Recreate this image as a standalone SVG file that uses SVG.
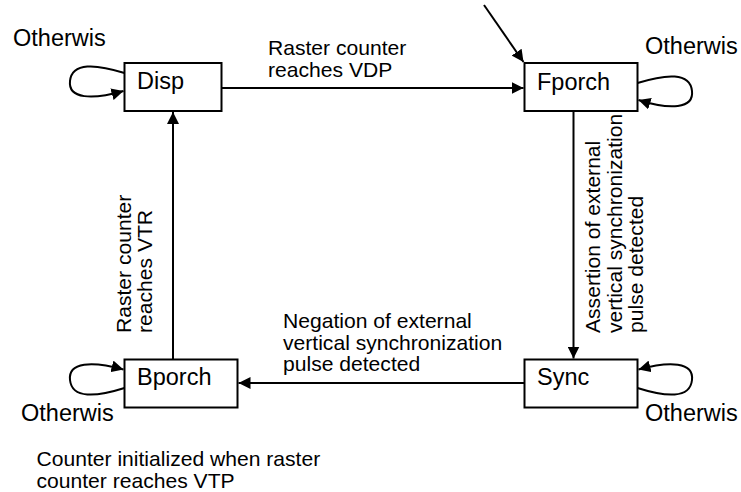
<svg xmlns="http://www.w3.org/2000/svg" width="741" height="492" viewBox="0 0 741 492">
<style>
.box{fill:#fff;stroke:#000;stroke-width:2}
.node{font-family:"Liberation Sans",Arial,sans-serif;font-size:23.5px;fill:#000}
.lbl{font-family:"Liberation Sans",Arial,sans-serif;font-size:21.1px;fill:#000}
.oth{font-family:"Liberation Sans",Arial,sans-serif;font-size:23.5px;fill:#000}
.edge{fill:none;stroke:#000;stroke-width:2;marker-end:url(#ah)}
</style>
<defs>
<marker id="ah" markerUnits="userSpaceOnUse" markerWidth="13" markerHeight="12" refX="12" refY="6" orient="auto" viewBox="0 0 13 12">
<path d="M0,0 L12,6 L0,12 z" fill="#000"/>
</marker>
</defs>
<rect width="741" height="492" fill="#fff"/>
<g id="connectors">
<path class="edge" d="M484,5 L523.5,62"/>
<path class="edge" d="M221.5,88 L523.5,88"/>
<path class="edge" d="M573.5,111 L573.5,358.5"/>
<path class="edge" d="M524.5,383 L238.5,383"/>
<path class="edge" d="M173,359.5 L173,112"/>
<path class="edge" d="M124.5,73 C96,64 72,62 70,81 C68,99 92,100 123.5,91"/>
<path class="edge" d="M637.5,83 C666,74 690,72 692,91 C694,109 670,110 638.5,100"/>
<path class="edge" d="M637.5,388 C666,397 690,399 692,380 C694,362 670,361 638.5,369.5"/>
<path class="edge" d="M124.5,388 C96,397 72,399 70,380 C68,362 92,361 123.5,369.5"/>
</g>
<g id="disp"><rect class="box" x="124.5" y="63" width="97" height="48"/><text class="node" x="137" y="89">Disp</text></g>
<g id="fporch"><rect class="box" x="524.5" y="63" width="113" height="48"/><text class="node" x="537" y="90">Fporch</text></g>
<g id="sync"><rect class="box" x="524.5" y="359.5" width="113" height="48"/><text class="node" x="537" y="385">Sync</text></g>
<g id="bporch"><rect class="box" x="124.5" y="359.5" width="113" height="48"/><text class="node" x="137" y="385">Bporch</text></g>
<g id="labels">
<text class="oth" x="13" y="46">Otherwis</text>
<text class="oth" x="645" y="54">Otherwis</text>
<text class="oth" x="21" y="420.5">Otherwis</text>
<text class="oth" x="645" y="420.5">Otherwis</text>
<text class="lbl"><tspan x="268" y="55">Raster counter</tspan><tspan x="268" y="76.7">reaches VDP</tspan></text>
<text class="lbl"><tspan x="283" y="328">Negation of external</tspan><tspan x="283" y="349.5">vertical synchronization</tspan><tspan x="283" y="371">pulse detected</tspan></text>
<text class="lbl" transform="translate(130.5,333) rotate(-90)"><tspan x="0" y="0">Raster counter</tspan><tspan x="0" y="21.7">reaches VTR</tspan></text>
<text class="lbl" transform="translate(600,333) rotate(-90)"><tspan x="0" y="0">Assertion of external</tspan><tspan x="0" y="21.7">vertical synchronization</tspan><tspan x="0" y="43.4">pulse detected</tspan></text>
<text class="lbl"><tspan x="36.5" y="466">Counter initialized when raster</tspan><tspan x="36.5" y="487.5">counter reaches VTP</tspan></text>
</g>
</svg>
